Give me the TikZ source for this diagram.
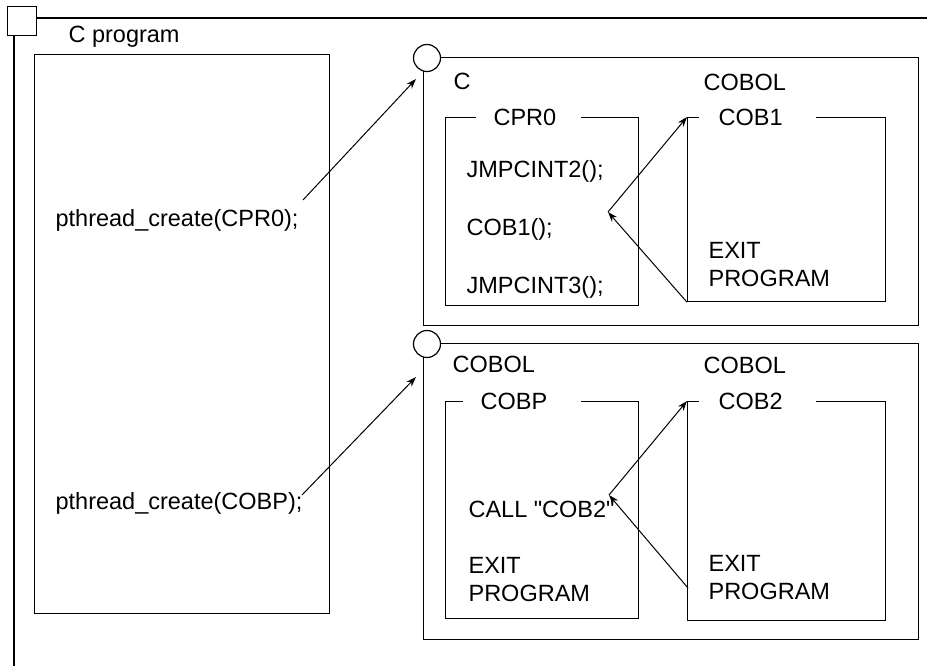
\documentclass[tikz,border=0pt]{standalone}
\usepackage{fontspec}
\setmainfont{Liberation Sans}
\usetikzlibrary{arrows.meta,calc}
\tikzset{
  progbox/.style={draw, line width=1.2pt, inner sep=0pt, anchor=north west},
  progtitle/.style={fill=white, inner xsep=0pt, inner ysep=1pt, anchor=west, align=left},
  progtext/.style={inner sep=0pt, anchor=base west},
  proglines/.style={inner sep=0pt, anchor=west, align=left},
  progarrow/.style={-{Stealth[length=10pt,width=7pt]}, line width=1pt},
  threadmark/.style={circle, draw, fill=white, line width=1.2pt, minimum size=27pt, inner sep=0pt},
}

\begin{document}
\begin{tikzpicture}[x=1pt, y=-1pt, font=\fontsize{23.5}{28}\selectfont, line width=1.2pt]
  \useasboundingbox (0,0) rectangle (927,666);
  % process frame
  \node[progbox, minimum size=29pt] (frame) at (7,6) {};
  \draw ($(frame.north east)+(0,12)$) -- (927,18);
  \draw ($(frame.south west)+(7,0)$) -- (14,666);
  \node[progtext] (cproglbl) at (68,43) {C program};
  \node[progbox, minimum width=295pt, minimum height=559pt] (cprog) at (34,54) {};
  \node[progtext] (pc1) at (55,226) {pthread\_create(CPR0);};
  \node[progtext] (pc2) at (55,509) {pthread\_create(COBP);};
  % thread 1
  \node[progbox, minimum width=495pt, minimum height=268pt] (thr1) at (423,57) {};
  \node[threadmark] (mark1) at (427,58) {};
  \node[progtext] (lang1) at (453,90) {C};
  \node[progtext] (lang2) at (703,91) {COBOL};
  \node[progbox, minimum width=193pt, minimum height=188pt] (cpr0) at (445,117) {};
  \node[progtitle, text width=105pt] (cpr0t) at (475,117) {\hspace*{18pt}CPR0};
  \node[progtext] (st1) at (466,178) {JMPCINT2();};
  \node[progtext] (st2) at (466,235) {COB1();};
  \node[progtext] (st3) at (466,293) {JMPCINT3();};
  \node[progbox, minimum width=198pt, minimum height=184pt] (cob1) at (687,117) {};
  \node[progtitle, text width=117pt] (cob1t) at (698,117) {\hspace*{20pt}COB1};
  \node[proglines] (exit1) at (708,265) {EXIT\\PROGRAM};
  % thread 2
  \node[progbox, minimum width=495pt, minimum height=296pt] (thr2) at (423,343) {};
  \node[threadmark] (mark2) at (427,344) {};
  \node[progtext] (lang3) at (452,372) {COBOL};
  \node[progtext] (lang4) at (703,373) {COBOL};
  \node[progbox, minimum width=193pt, minimum height=217pt] (cobp) at (445,401) {};
  \node[progtitle, text width=118pt] (cobpt) at (462,401) {\hspace*{18pt}COBP};
  \node[progtext] (st4) at (468,517) {CALL \textquotedbl COB2\textquotedbl};
  \node[proglines] (exit2) at (468,580) {EXIT\\PROGRAM};
  \node[progbox, minimum width=198pt, minimum height=219pt] (cob2) at (687,401) {};
  \node[progtitle, text width=117pt] (cob2t) at (698,401) {\hspace*{20pt}COB2};
  \node[proglines] (exit3) at (708,578) {EXIT\\PROGRAM};
  % arrows
  \coordinate (cp1) at (303,200);
  \coordinate (tip1) at (416,79);
  \coordinate (cp2) at (302,495);
  \coordinate (tip2) at (416,377);
  \coordinate (ret1) at (608,212);
  \coordinate (ret2) at (609,495);
  \coordinate (back2) at (688,588);
  \draw[progarrow] (cp1) -- (tip1);
  \draw[progarrow] (cp2) -- (tip2);
  \draw[progarrow] (ret1) -- (cob1.north west);
  \draw[progarrow] (cob1.south west) -- (ret1);
  \draw[progarrow] (ret2) -- (cob2.north west);
  \draw[progarrow] (back2) -- (ret2);
\end{tikzpicture}
\end{document}
